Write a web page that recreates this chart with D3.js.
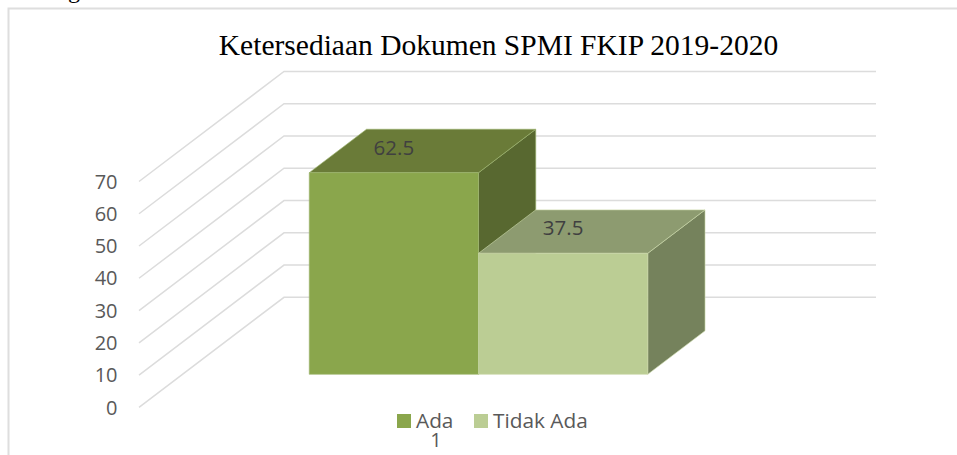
<!DOCTYPE html>
<html><head><meta charset="utf-8">
<script src="https://cdn.jsdelivr.net/npm/d3@7"></script>
<style>html,body{margin:0;padding:0;background:#fff}svg{display:block}</style>
</head><body><svg id="c" width="957" height="455"></svg>
<script>
const chartTitle = "Ketersediaan Dokumen SPMI FKIP 2019-2020";
const categories = ["1"];
const seriesNames = ["Ada", "Tidak Ada"];
const seriesValues = [62.5, 37.5];
const yTicks = [0, 10, 20, 30, 40, 50, 60, 70];
const frontColors = ["#8aa64c", "#bbcd94"];
const topColors = ["#6a7b38", "#8d9b70"];
const sideColors = ["#586830", "#75825c"];
const edgeColors = ["#9db56f", "#c9d8a8"];

const svg = d3.select("#c");
const grey = "#595959", grid = "#dcdcdc";

// Oblique projection: value -> height, depth in [0,1] -> shift up and to the right
const y = d3.scaleLinear().domain([0, 70]).range([407.3, 181.5]);
const depthX = d3.scaleLinear().domain([0, 1]).range([0, 145]);
const depthY = d3.scaleLinear().domain([0, 1]).range([0, -110]);
const wallX = d3.scaleLinear().domain([0, 1]).range([139, 731]);

const barD0 = 0.3, barD1 = 0.695;
const xCat = d3.scaleBand().domain(categories)
  .range([wallX(0) + depthX(barD0), wallX(1) + depthX(barD0)]).paddingOuter(0.3745);
const xSer = d3.scaleBand().domain(seriesNames)
  .range([xCat(categories[0]), xCat(categories[0]) + xCat.bandwidth()]);

// descender of the page text cropped at the top edge
svg.append("text").attr("x", 68).attr("y", -2)
  .attr("font-family", "'Liberation Serif'").attr("font-size", 24).attr("fill", "#000").text("g");

// chart frame
svg.append("path").attr("d", "M8.5,455V8.5H957").attr("fill", "none")
  .attr("stroke", "#dedede").attr("stroke-width", 2);

// gridlines on side wall and back wall
svg.append("g").selectAll("path").data(yTicks).join("path")
  .attr("fill", "none").attr("stroke", grid).attr("stroke-width", 1.5)
  .attr("d", t => d3.line()([
    [wallX(0), y(t)],
    [wallX(0) + depthX(1), y(t) + depthY(1)],
    [wallX(1) + depthX(1), y(t) + depthY(1)]
  ]));

// y axis tick labels
svg.append("g").selectAll("text").data(yTicks).join("text")
  .attr("x", 117.5).attr("y", t => y(t)).attr("dy", "0.36em")
  .attr("text-anchor", "end").attr("fill", grey)
  .attr("font-family", "'Open Sans'").attr("font-size", 20).text(t => t);

// title
svg.append("text").attr("x", 498.5).attr("y", 55).attr("text-anchor", "middle")
  .attr("font-family", "'Liberation Serif'").attr("font-size", 29.5).attr("fill", "#000")
  .text(chartTitle);

// 3D bars
const bars = seriesNames.map((s, i) => ({
  s, i, v: seriesValues[i],
  x0: xSer(s), x1: xSer(s) + xSer.bandwidth(),
  yb: y(0) + depthY(barD0), yt: y(seriesValues[i]) + depthY(barD0)
}));
const dx = depthX(barD1 - barD0), dy = depthY(barD1 - barD0);
const poly = pts => d3.line()(pts) + "Z";
const g = svg.append("g");
// left bar first: the right bar's top and front cover the left bar's side
bars.forEach(b => {
  const bg = g.append("g").attr("stroke", edgeColors[b.i]).attr("stroke-width", 0.8)
    .attr("stroke-opacity", 0.8).attr("stroke-linejoin", "round");
  bg.append("path").attr("fill", sideColors[b.i])
    .attr("d", poly([[b.x1, b.yb], [b.x1 + dx, b.yb + dy], [b.x1 + dx, b.yt + dy], [b.x1, b.yt]]));
  bg.append("path").attr("fill", topColors[b.i])
    .attr("d", poly([[b.x0, b.yt], [b.x0 + dx, b.yt + dy], [b.x1 + dx, b.yt + dy], [b.x1, b.yt]]));
  bg.append("path").attr("fill", frontColors[b.i])
    .attr("d", poly([[b.x0, b.yb], [b.x0, b.yt], [b.x1, b.yt], [b.x1, b.yb]]));
});
// data labels on the top faces
svg.append("g").selectAll("text").data(bars).join("text")
  .attr("x", b => (b.x0 + b.x1) / 2)
  .attr("y", b => b.yt + dy / 2 - 3.7).attr("dy", "0.36em")
  .attr("text-anchor", "middle").attr("fill", "#404040")
  .attr("font-family", "'Open Sans'").attr("font-size", 20.5).text(b => d3.format(".1f")(b.v));

// legend
const legendX = [397, 474];
const lg = svg.append("g").selectAll("g").data(seriesNames).join("g");
lg.append("rect").attr("x", (d, i) => legendX[i]).attr("y", 414).attr("width", 14).attr("height", 14)
  .attr("fill", (d, i) => frontColors[i]);
lg.append("text").attr("x", (d, i) => legendX[i] + 19).attr("y", 421).attr("dy", "0.36em")
  .attr("fill", grey).attr("font-family", "'Open Sans'").attr("font-size", 20.8).text(d => d);

// category label
svg.append("text").attr("x", 436).attr("y", 440).attr("dy", "0.36em").attr("text-anchor", "middle")
  .attr("fill", grey).attr("font-family", "'Open Sans'").attr("font-size", 20).text(categories[0]);
</script></body></html>
